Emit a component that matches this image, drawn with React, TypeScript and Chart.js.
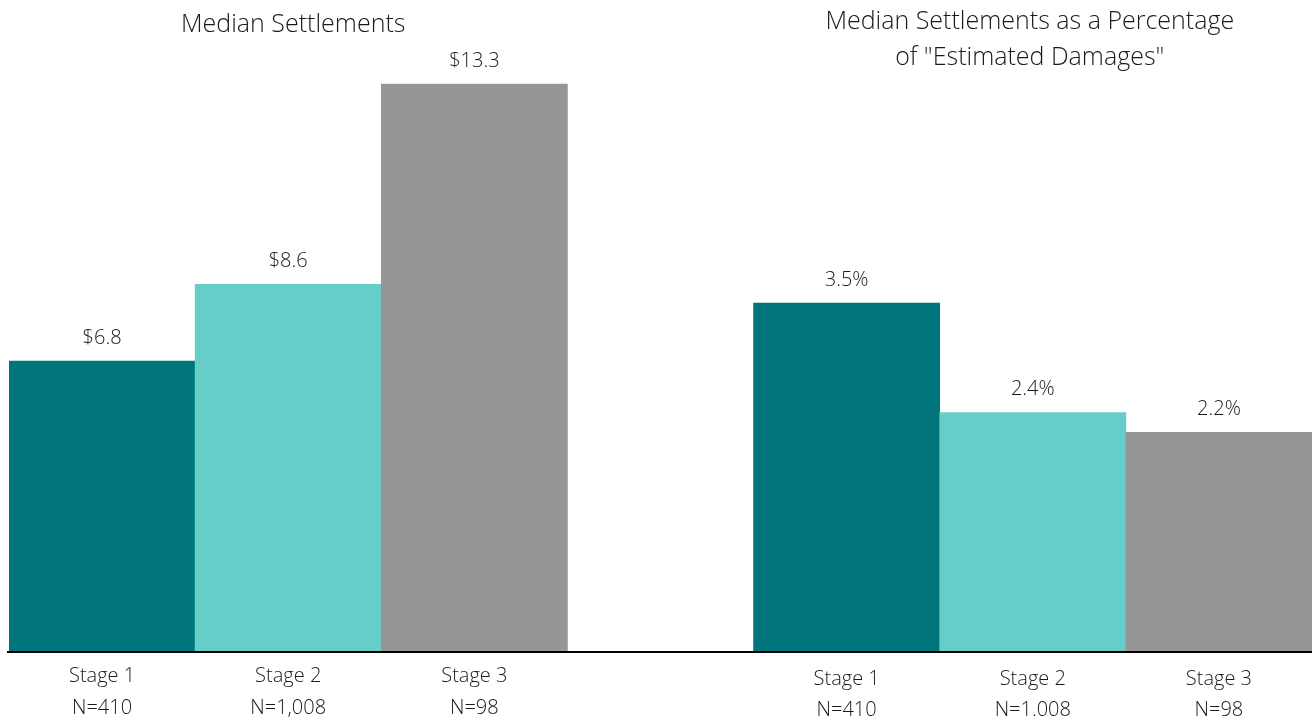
import React, { useEffect, useRef } from "react";
import { Chart, registerables } from "chart.js";

Chart.register(...registerables);

const stageLabels = ["Stage 1", "Stage 2", "Stage 3"];
const leftCounts = ["N=410", "N=1,008", "N=98"];
const rightCounts = ["N=410", "N=1.008", "N=98"];
const settlementValues = [6.8, 8.6, 13.3];
const percentValues = [3.5, 2.4, 2.2];
const leftTitle = ["Median Settlements"];
const rightTitle = ["Median Settlements as a Percentage", 'of "Estimated Damages"'];
const barColors = ["#00767C", "#66CDC9", "#969696"];

const categories = ["L1", "L2", "L3", "gap", "R1", "R2", "R3"];
const leftData = [...settlementValues, null, null, null, null];
const rightData = [null, null, null, null, ...percentValues];
const colorList = [...barColors, "rgba(0,0,0,0)", ...barColors];

const FONT = "'Open Sans', 'Noto Sans', sans-serif";
const TEXT = "#1a1a1a";

const overlay = {
  id: "overlay",
  afterDraw(chart: any) {
    const ctx = chart.ctx as CanvasRenderingContext2D;
    const x = chart.scales.x;
    const area = chart.chartArea;
    ctx.save();
    // baseline
    ctx.strokeStyle = "#000000";
    ctx.lineWidth = 2;
    ctx.beginPath();
    ctx.moveTo(7, area.bottom + 1);
    ctx.lineTo(chart.width, area.bottom + 1);
    ctx.stroke();

    ctx.fillStyle = TEXT;
    ctx.textAlign = "center";
    ctx.textBaseline = "middle";

    // value labels
    ctx.font = `300 20px ${FONT}`;
    chart.data.datasets.forEach((ds: any, di: number) => {
      const meta = chart.getDatasetMeta(di);
      meta.data.forEach((bar: any, i: number) => {
        const v = ds.data[i];
        if (v === null || v === undefined) return;
        const txt = di === 0 ? `$${v.toFixed(1)}` : `${v.toFixed(1)}%`;
        ctx.fillText(txt, bar.x, bar.y - 23);
      });
    });

    // category labels
    ctx.font = `300 20px ${FONT}`;
    for (let i = 0; i < 3; i++) {
      const lx = x.getPixelForValue(i);
      ctx.fillText(stageLabels[i], lx, area.bottom + 25);
      ctx.fillText(leftCounts[i], lx, area.bottom + 57);
      const rx = x.getPixelForValue(i + 4);
      ctx.fillText(stageLabels[i], rx, area.bottom + 28);
      ctx.fillText(rightCounts[i], rx, area.bottom + 59);
    }

    // titles
    ctx.font = `300 25px ${FONT}`;
    const lc = x.getPixelForValue(1);
    leftTitle.forEach((t, i) => ctx.fillText(t, lc + 5, 25 + i * 36));
    const rc = x.getPixelForValue(5);
    rightTitle.forEach((t, i) => ctx.fillText(t, rc - 3, 22 + i * 36));
    ctx.restore();
  },
};

export default function App() {
  const ref = useRef<HTMLCanvasElement>(null);
  useEffect(() => {
    if (!ref.current) return;
    const chart = new Chart(ref.current, {
      type: "bar",
      data: {
        labels: categories,
        datasets: [
          {
            data: leftData,
            backgroundColor: colorList,
            yAxisID: "y",
            grouped: false,
            categoryPercentage: 1,
            barPercentage: 1,
            borderWidth: 0,
          } as any,
          {
            data: rightData,
            backgroundColor: colorList,
            yAxisID: "y2",
            grouped: false,
            categoryPercentage: 1,
            barPercentage: 1,
            borderWidth: 0,
          } as any,
        ],
      },
      options: {
        animation: false,
        responsive: false,
        layout: { padding: { left: 9, right: 0, top: 0, bottom: 66 } },
        plugins: { legend: { display: false }, tooltip: { enabled: false } },
        scales: {
          x: { display: false, offset: true },
          y: { display: false, min: 0, max: 15.27 },
          y2: { display: false, min: 0, max: 6.55, position: "right" },
        },
      },
      plugins: [overlay],
    });
    return () => chart.destroy();
  }, []);
  return (
    <div style={{ position: "absolute", left: 0, top: 0, width: 1312, height: 717, background: "#fff" }}>
      <canvas ref={ref} width={1312} height={717} />
    </div>
  );
}
